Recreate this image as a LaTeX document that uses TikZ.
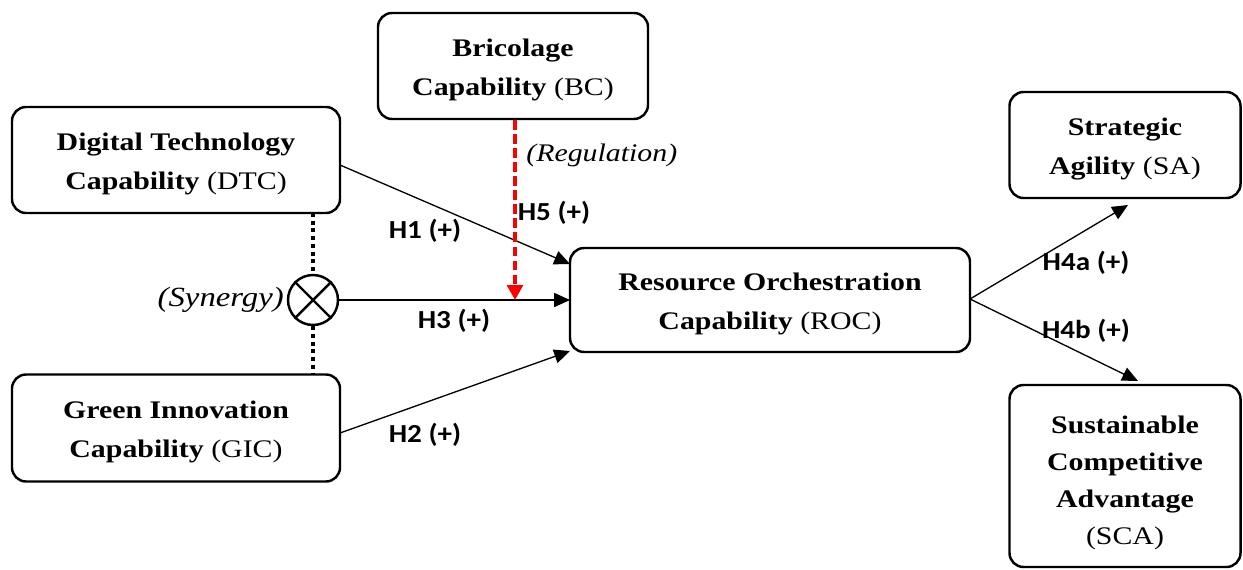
\documentclass[tikz,border=0pt]{standalone}
\usepackage{fontspec}
\setmainfont{Liberation Serif}[FakeStretch=1.18]
\newfontfamily\hfont{Carlito}[FakeStretch=1.12]
\usetikzlibrary{arrows.meta,positioning}
\tikzset{
  box/.style={draw, line width=1.4pt, rounded corners=8pt, inner sep=0pt},
  btext/.style={align=center, inner sep=0pt, font=\fontsize{14.4}{22}\selectfont},
  conn/.style={line width=0.75pt, -{Triangle[length=9pt,width=8pt]}},
  hlab/.style={font=\hfont\bfseries\fontsize{14.8}{16}\selectfont, inner sep=0pt},
  ilab/.style={font=\itshape\fontsize{14.4}{18}\selectfont, inner sep=0pt},
  dotl/.style={line width=1.9pt, dash pattern=on 2.2pt off 2.2pt},
  redarr/.style={red, line width=2pt, dash pattern=on 5.5pt off 2.5pt, -{Triangle[length=8.5pt,width=9pt]}}
}
\begin{document}
\begin{tikzpicture}[x=0.02cm,y=-0.02cm]
\useasboundingbox (0,0) rectangle (1243,569);
% boxes
\node[box, minimum width=270*0.02cm, minimum height=106*0.02cm] (bc) at (513,66) {};
\node[btext] (bct) at ([yshift=-0.08cm]bc.center) {\textbf{Bricolage}\\\textbf{Capability} (BC)};
\node[box, minimum width=328*0.02cm, minimum height=106*0.02cm] (dtc) at (176,160) {};
\node[btext] (dtct) at ([yshift=-0.08cm]dtc.center) {\textbf{Digital Technology}\\\textbf{Capability} (DTC)};
\node[box, minimum width=328*0.02cm, minimum height=107*0.02cm] (gic) at (176,428) {};
\node[btext] (gict) at ([yshift=-0.08cm]gic.center) {\textbf{Green Innovation}\\\textbf{Capability} (GIC)};
\node[box, minimum width=400*0.02cm, minimum height=104*0.02cm] (roc) at (770,300) {};
\node[btext] (roct) at ([yshift=-0.08cm]roc.center) {\textbf{Resource Orchestration}\\\textbf{Capability} (ROC)};
\node[box, minimum width=231*0.02cm, minimum height=106*0.02cm] (sa) at (1125,145) {};
\node[btext] (sat) at ([yshift=-0.08cm]sa.center) {\textbf{Strategic}\\\textbf{Agility} (SA)};
\node[box, minimum width=231*0.02cm, minimum height=182*0.02cm] (sca) at (1125,476) {};
\node[btext, font=\fontsize{14.4}{21.2}\selectfont] (scat) at ([yshift=-0.14cm]sca.center)
  {\textbf{Sustainable}\\\textbf{Competitive}\\\textbf{Advantage}\\(SCA)};
% synergy circle
\node[draw, circle, line width=1.4pt, minimum size=50*0.02cm, inner sep=0pt] (x) at (313,300) {};
\draw[line width=1.4pt] (x.north west) -- (x.south east) (x.north east) -- (x.south west);
\node[ilab, font=\itshape\fontsize{15.8}{18}\selectfont, anchor=east] (syn) at ([xshift=-1.5pt]x.west) {(Synergy)};
% dotted links
\coordinate (dtop) at (313,213);
\coordinate (gbot) at (313,375);
\draw[dotl] (dtop) -- (x.north);
\draw[dotl] (x.south) -- (gbot);
% connectors
\coordinate (dtcout) at (340,165);
\coordinate (roc1) at (570,264);
\coordinate (gicout) at (340,433);
\coordinate (roc2) at (570,351);
\coordinate (roc3) at (570,300);
\draw[conn] (dtcout) -- (roc1);
\draw[conn] (gicout) -- (roc2);
\draw[conn] (x.east) -- (roc3);
\coordinate (rocout) at (970,299);
\coordinate (saend) at (1128,205);
\coordinate (scaend) at (1138,381);
\draw[conn] (rocout) -- (saend);
\draw[conn] (rocout) -- (scaend);
% red moderation
\coordinate (bcout) at (515,120);
\coordinate (redend) at (515,300);
\draw[redarr] (bcout) -- (redend);
% labels
\node[ilab, anchor=west] (reg) at (526,155) {(Regulation)};
\node[hlab] (h1) at (425,231) {H1 (+)};
\node[hlab] (h5) at (554,213) {H5 (+)};
\node[hlab] (h3) at (454,321) {H3 (+)};
\node[hlab] (h2) at (425,435) {H2 (+)};
\node[hlab] (h4a) at (1086,263) {H4a (+)};
\node[hlab] (h4b) at (1086,331) {H4b (+)};
\end{tikzpicture}
\end{document}
